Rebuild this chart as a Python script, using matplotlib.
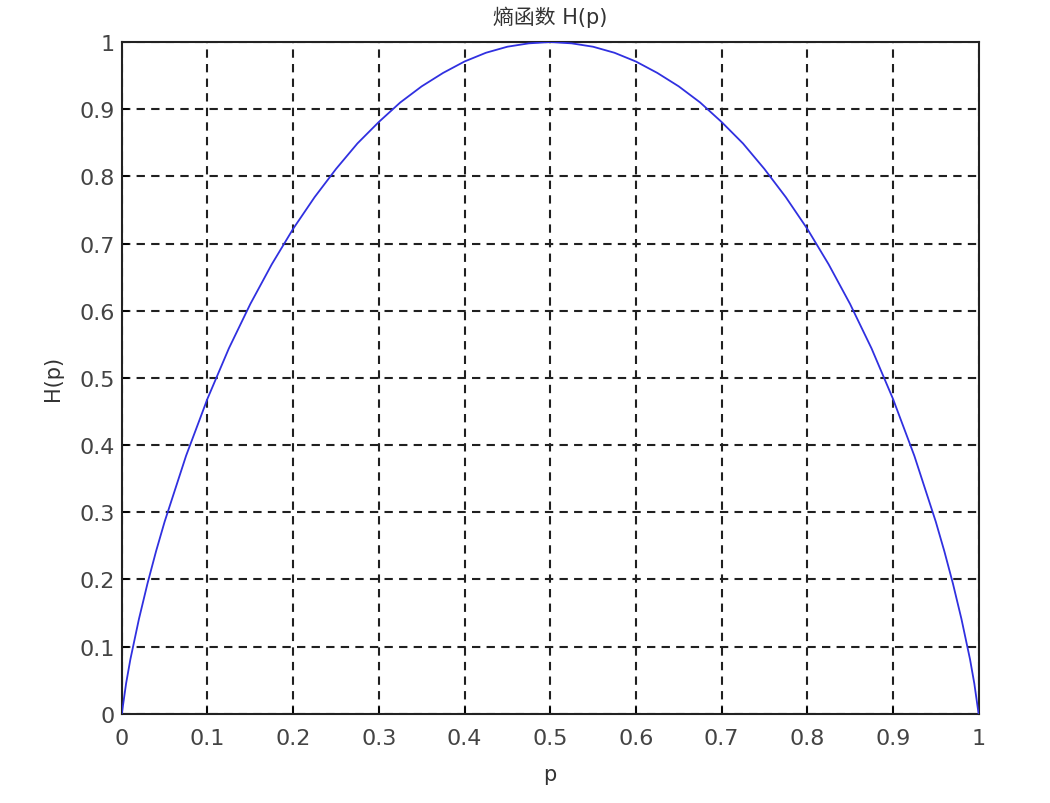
import numpy as np
import matplotlib.pyplot as plt

# values
p = [0.0, 0.005, 0.01, 0.02, 0.03, 0.04, 0.05, 0.075, 0.1, 0.125, 0.15, 0.175,
     0.2, 0.225, 0.25, 0.275, 0.3, 0.325, 0.35, 0.375, 0.4, 0.425, 0.45, 0.475,
     0.5, 0.525, 0.55, 0.575, 0.6, 0.625, 0.65, 0.675, 0.7, 0.725, 0.75, 0.775,
     0.8, 0.825, 0.85, 0.875, 0.9, 0.925, 0.95, 0.96, 0.97, 0.98, 0.99, 0.995, 1.0]
h = [0.0, 0.045, 0.081, 0.141, 0.194, 0.242, 0.286, 0.384, 0.469, 0.544, 0.610, 0.669,
     0.722, 0.769, 0.811, 0.849, 0.881, 0.910, 0.934, 0.954, 0.971, 0.984, 0.993, 0.998,
     1.0, 0.998, 0.993, 0.984, 0.971, 0.954, 0.934, 0.910, 0.881, 0.849, 0.811, 0.769,
     0.722, 0.669, 0.610, 0.544, 0.469, 0.384, 0.286, 0.242, 0.194, 0.141, 0.081, 0.045, 0.0]

xticks = [0, 0.1, 0.2, 0.3, 0.4, 0.5, 0.6, 0.7, 0.8, 0.9, 1]
xlabels = ['0', '0.1', '0.2', '0.3', '0.4', '0.5', '0.6', '0.7', '0.8', '0.9', '1']
yticks = xticks
ylabels = xlabels

plt.rcParams['font.family'] = ['DejaVu Sans', 'Noto Sans CJK SC']

fig = plt.figure(figsize=(10.5, 8.04), dpi=100)
ax = fig.add_axes([0.116, 0.111, 0.816, 0.8355])

ax.plot(p, h, color='#3030e0', lw=1.3, zorder=3)

ax.set_xlim(0, 1)
ax.set_ylim(0, 1)
ax.set_xticks(xticks)
ax.set_xticklabels(xlabels)
ax.set_yticks(yticks)
ax.set_yticklabels(ylabels)
ax.grid(True, color='#202020', linestyle=(0, (4, 3)), lw=1.5)
ax.tick_params(direction='in', length=5, width=1.2, labelsize=16,
               labelcolor='#444444')
ax.tick_params(axis='x', pad=10)
ax.tick_params(axis='y', pad=5)
for s in ax.spines.values():
    s.set_linewidth(1.5)
    s.set_color('#222222')

ax.set_xlabel('p', fontsize=15, color='#333333', labelpad=12)
ax.set_ylabel('H(p)', fontsize=15, color='#333333', labelpad=12)
ax.set_title('熵函数 H(p)', fontsize=15, color='#333333', pad=14)

fig.savefig('out.png', dpi=100, facecolor='white')
